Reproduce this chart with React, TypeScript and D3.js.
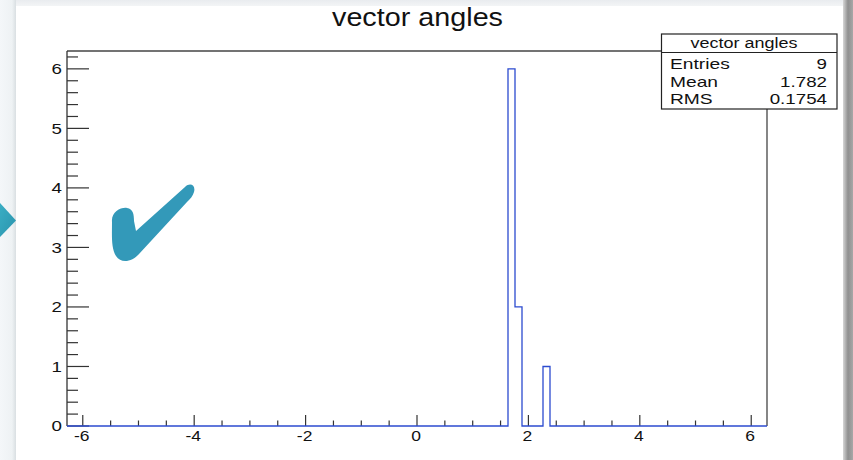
import React from "react";
import * as d3 from "d3";

// ---- data ----
const histTitle = "vector angles";
const xMin = -2 * Math.PI;
const xMax = 2 * Math.PI;
const nBins = 100;
const filledBins = [63, 64, 68];
const binCounts = [6, 2, 1];
const yMax = 6.3;
const xMajorTicks = [-6, -4, -2, 0, 2, 4, 6];
const yMajorTicks = [0, 1, 2, 3, 4, 5, 6];
const statLabels = ["Entries", "Mean", "RMS"];
const statValues = ["9", "1.782", "0.1754"];

const W = 853;
const H = 460;
const FONT = "'Liberation Sans', Arial, Helvetica, sans-serif";

export default function App() {
  const x = d3.scaleLinear().domain([xMin, xMax]).range([67, 767]);
  const y = d3.scaleLinear().domain([0, yMax]).range([426, 51]);

  const counts = new Array(nBins).fill(0);
  filledBins.forEach((b, i) => (counts[b] = binCounts[i]));
  const bw = (xMax - xMin) / nBins;
  const pts: [number, number][] = [[x(xMin), y(0)]];
  counts.forEach((c, i) => {
    pts.push([x(xMin + i * bw), y(c)]);
    pts.push([x(xMin + (i + 1) * bw), y(c)]);
  });
  pts.push([x(xMax), y(0)]);
  const histPath = d3.line()(pts) || "";

  const xMinor = d3.range(-6, 6.01, 0.5).filter((v) => Math.abs(v % 2) > 1e-6);
  const yMinor = d3.range(0, 6.25, 0.2).filter((v) => Math.abs(v - Math.round(v)) > 1e-6);

  const axisColor = "#333";

  return (
    <svg width={W} height={H} style={{ position: "absolute", left: 0, top: 0 }} fontFamily={FONT}>
      <defs>
        <linearGradient id="leftband" x1="0" x2="1" y1="0" y2="0">
          <stop offset="0" stopColor="#f4f7f9" />
          <stop offset="0.75" stopColor="#eef2f4" />
          <stop offset="1" stopColor="#d9dfe2" />
        </linearGradient>
        <linearGradient id="rightband" x1="0" x2="1" y1="0" y2="0">
          <stop offset="0" stopColor="#d6d6d6" />
          <stop offset="0.5" stopColor="#8f8f8f" />
          <stop offset="1" stopColor="#a8a8a8" />
        </linearGradient>
        <linearGradient id="topband" x1="0" x2="0" y1="0" y2="1">
          <stop offset="0" stopColor="#e9ecef" />
          <stop offset="1" stopColor="#f3f5f6" />
        </linearGradient>
        <linearGradient id="tri" x1="0" x2="1" y1="0" y2="1">
          <stop offset="0" stopColor="#3aaec4" />
          <stop offset="1" stopColor="#2a93ad" />
        </linearGradient>
      </defs>
      <rect x={0} y={0} width={W} height={H} fill="#fff" />
      <rect x={0} y={0} width={W} height={6} fill="url(#topband)" />
      <rect x={0} y={0} width={16} height={H} fill="url(#leftband)" />
      <rect x={843} y={0} width={10} height={H} fill="url(#rightband)" />
      <polygon points="0,203 16,220.5 0,237" fill="url(#tri)" />

      {/* check mark decoration */}
      <path
        d="M 112 222 C 111 212, 121 207, 127 208 C 133 209, 134 214, 134 221 L 136 231 L 185 187 C 190 182, 196 185, 194 192 C 193 196, 190 199, 187 202 L 139 254 C 132 262, 121 264, 116 256 C 111 248, 112 235, 112 222 Z"
        fill="#3399b9"
      />

      {/* title */}
      <text
        transform={`translate(${417.5},${25.5}) scale(1.15,1)`}
        textAnchor="middle"
        fontSize={25}
        fill="#111"
      >
        {histTitle}
      </text>

      {/* frame */}
      <line x1={x(xMin)} x2={x(xMax)} y1={y(yMax)} y2={y(yMax)} stroke="#444" strokeWidth={1.3} />
      <line x1={x(xMax)} x2={x(xMax)} y1={y(yMax)} y2={y(0)} stroke="#444" strokeWidth={1.3} />
      <line x1={x(xMin)} x2={x(xMin)} y1={y(yMax)} y2={y(0)} stroke={axisColor} strokeWidth={1.3} />

      {/* y ticks */}
      {yMajorTicks.map((v) => (
        <g key={"ym" + v}>
          <line x1={x(xMin)} x2={x(xMin) + 22} y1={y(v)} y2={y(v)} stroke={axisColor} strokeWidth={1.2} />
          <text
            transform={`translate(62,${y(v) + 5.3}) scale(1.25,1)`}
            textAnchor="end"
            fontSize={15}
            fill="#111"
          >
            {v}
          </text>
        </g>
      ))}
      {yMinor.map((v) => (
        <line key={"yn" + v} x1={x(xMin)} x2={x(xMin) + 11} y1={y(v)} y2={y(v)} stroke={axisColor} strokeWidth={1.2} />
      ))}

      {/* x ticks */}
      {xMajorTicks.map((v) => (
        <g key={"xm" + v}>
          <line x1={x(v)} x2={x(v)} y1={y(0)} y2={y(0) - 11} stroke={axisColor} strokeWidth={1.2} />
          <text
            transform={`translate(${x(v) - 1},441) scale(1.25,1)`}
            textAnchor="middle"
            fontSize={14}
            fill="#111"
          >
            {v}
          </text>
        </g>
      ))}
      {xMinor.map((v) => (
        <line key={"xn" + v} x1={x(v)} x2={x(v)} y1={y(0)} y2={y(0) - 5.5} stroke={axisColor} strokeWidth={1.2} />
      ))}

      {/* histogram */}
      <path d={histPath} fill="none" stroke="#2c4bcf" strokeWidth={1.3} />

      {/* stats box */}
      <rect x={661.5} y={34} width={175.5} height={75} fill="#fff" stroke="#222" strokeWidth={1.2} />
      <line x1={661.5} x2={837} y1={52.5} y2={52.5} stroke="#222" strokeWidth={1.2} />
      <text transform={`translate(744,48) scale(1.2,1)`} textAnchor="middle" fontSize={15} fill="#111">
        {histTitle}
      </text>
      {statLabels.map((l, i) => (
        <g key={l}>
          <text transform={`translate(670,${69.3 + i * 17.4}) scale(1.28,1)`} fontSize={15} fill="#111">
            {l}
          </text>
          <text
            transform={`translate(827,${69.3 + i * 17.4}) scale(1.25,1)`}
            textAnchor="end"
            fontSize={15}
            fill="#111"
          >
            {statValues[i]}
          </text>
        </g>
      ))}
    </svg>
  );
}
